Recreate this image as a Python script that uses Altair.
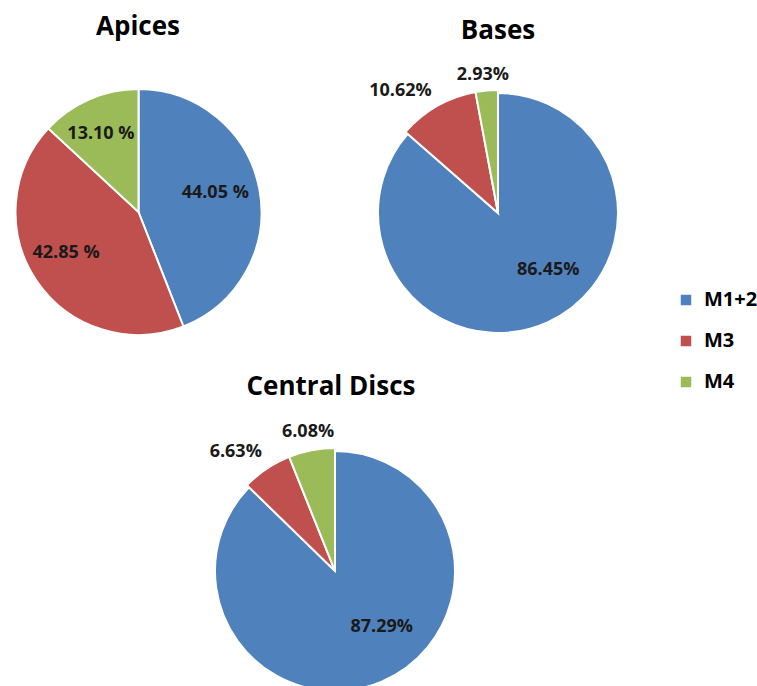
import math
import altair as alt
import pandas as pd

# Composition of each tissue region (percent of total)
pies = ["Apices", "Bases", "Central Discs"]
segments = ["M1+2", "M3", "M4"]
apices = [44.05, 42.85, 13.10]
bases = [86.45, 10.62, 2.93]
central_discs = [87.29, 6.63, 6.08]
colors = ["#4F81BD", "#C0504D", "#9BBB59"]

# Layout: pie centre / radius, title baseline, label style, pull-out of minor slices
layout = {
    "Apices": dict(cx=138.5, cy=212, r=123, title_x=138, title_y=35, sep=" ", pull=0),
    "Bases": dict(cx=498, cy=213, r=120, title_x=498, title_y=39, sep="", pull=3),
    "Central Discs": dict(cx=335, cy=571, r=120, title_x=331, title_y=395, sep="", pull=3),
}
# Label placement: (angle shift from slice middle in degrees, distance from centre)
label_place = {
    "Apices": [(-3, 79), (5, 83), (-2, 87)],
    "Bases": [(-17, 76), (-9, 156), (-1, 139)],
    "Central Discs": [(-17, 73), (-6, 155), (0, 142)],
}

rows = []
for pie, vals in zip(pies, [apices, bases, central_discs]):
    total = sum(vals)
    cum = 0.0
    for i, (seg, v) in enumerate(zip(segments, vals)):
        mid = (cum + v / 2) / total * 360
        shift, lr = label_place[pie][i]
        rows.append(dict(
            pie=pie, segment=seg, idx=i, value=v,
            label=f"{v:.2f}{layout[pie]['sep']}%",
            lab_theta=math.radians(mid + shift), lab_r=lr,
        ))
        cum += v
df = pd.DataFrame(rows)

color = alt.Color(
    "segment:N",
    scale=alt.Scale(domain=segments, range=colors),
    legend=alt.Legend(title=None),
)

FONT = "Open Sans"
layers = []
for pie in pies:
    L = layout[pie]
    base = alt.Chart(df).transform_filter(alt.datum.pie == pie)
    # slices start at 12 o'clock and run clockwise in segment order
    arc = base.transform_joinaggregate(
        total="sum(value)"
    ).transform_window(
        cum="sum(value)", sort=[alt.SortField("idx")], frame=[None, 0]
    ).transform_calculate(
        t0="2 * PI * (datum.cum - datum.value) / datum.total",
        t1="2 * PI * datum.cum / datum.total",
        arc_r=f"datum.idx > 0 ? {L['r'] + L['pull']} : {L['r']}",
    ).mark_arc(stroke="white", strokeWidth=2).encode(
        theta=alt.Theta("t0:Q", scale=None, stack=None),
        theta2="t1:Q",
        color=color,
        radius=alt.Radius("arc_r:Q", scale=None),
        x=alt.value(L["cx"]),
        y=alt.value(L["cy"]),
    )
    text = base.mark_text(
        font=FONT, fontSize=18, fontWeight="bold", color="#1a1a1a",
        align="center", baseline="middle",
    ).encode(
        theta=alt.Theta("lab_theta:Q", scale=None, stack=None),
        radius=alt.Radius("lab_r:Q", scale=None),
        text="label:N",
        x=alt.value(L["cx"]),
        y=alt.value(L["cy"]),
    )
    title = alt.Chart(pd.DataFrame({"name": [pie]})).mark_text(
        font=FONT, fontSize=26, fontWeight="bold", color="#000000",
        align="center", baseline="alphabetic",
    ).encode(
        text="name:N",
        x=alt.value(L["title_x"]),
        y=alt.value(L["title_y"]),
    )
    layers += [arc, text, title]

chart = alt.layer(*layers).properties(
    width=757, height=686, autosize=alt.AutoSizeParams(type="none"), padding=0,
).configure_view(stroke=None).configure_legend(
    orient="none", legendX=676, legendY=290,
    symbolType="square", symbolSize=110, symbolStrokeWidth=0,
    labelFont=FONT, labelFontSize=20, labelFontWeight="bold", labelColor="#000000",
    rowPadding=21, labelOffset=8,
)

chart.save("out.html", embed_options={"renderer": "svg", "actions": False})
